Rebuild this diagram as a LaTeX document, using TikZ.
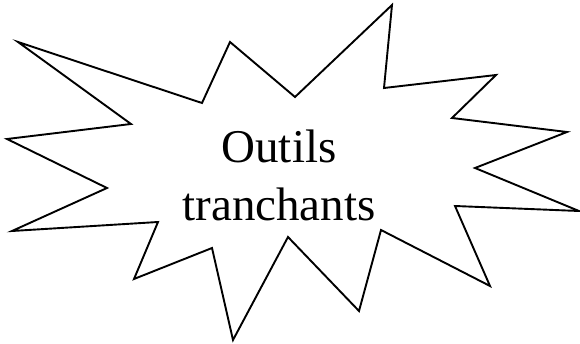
\documentclass[tikz,border=0pt]{standalone}
\usepackage{fontspec}
\setmainfont{Liberation Serif}
\begin{document}
\begin{tikzpicture}[x=1pt,y=-1pt,
  burst/.style={draw=black,line width=1.9pt,line join=miter,fill=white},
  lbl/.style={font=\fontsize{47}{56}\selectfont,anchor=base,inner sep=0pt}]
\useasboundingbox (0,0) rectangle (580,344);
\draw[burst] (18,42) -- (202,103) -- (230,42) -- (295,97) -- (392,5) -- (384,88)
  -- (496,75) -- (452,118) -- (567,132) -- (475,168) -- (579,211) -- (455,206)
  -- (490,286) -- (381,230) -- (359,311) -- (288,237) -- (233,340) -- (212,248)
  -- (134,279) -- (158,222) -- (12,231) -- (107,188) -- (7,139) -- (131,124) -- cycle;
\node[lbl] (l1) at (279,163) {Outils};
\node[lbl] (l2) at (279,221) {tranchants};
\end{tikzpicture}
\end{document}
